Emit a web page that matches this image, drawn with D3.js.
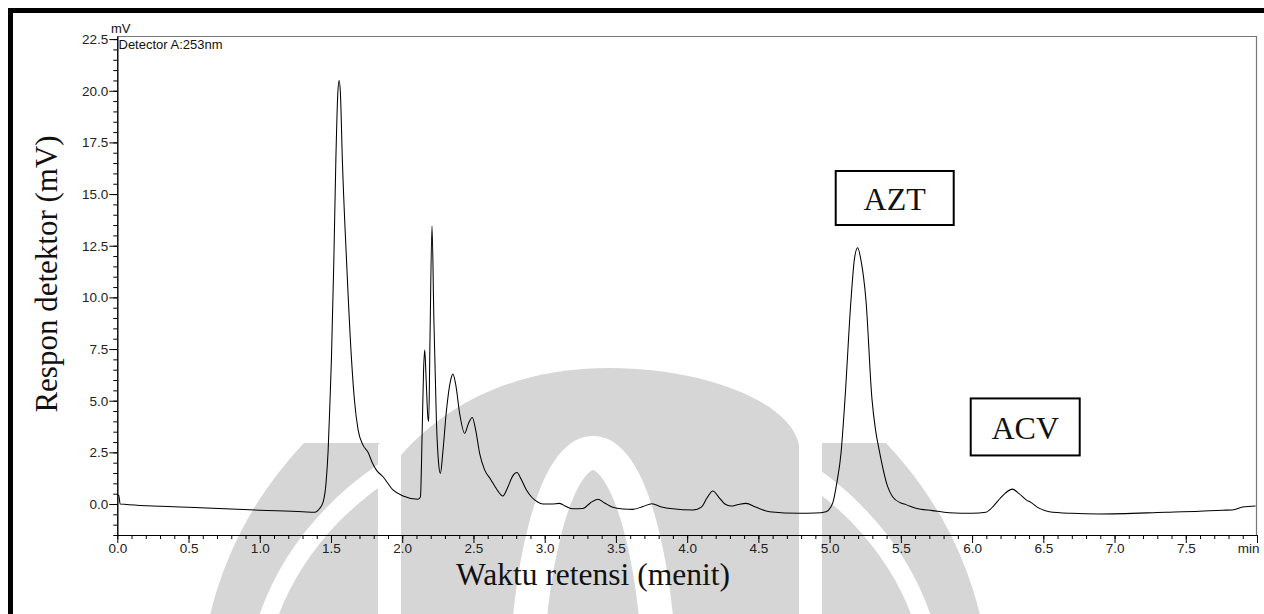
<!DOCTYPE html>
<html>
<head>
<meta charset="utf-8">
<script src="https://cdn.jsdelivr.net/npm/d3@7"></script>
<style>
  body { margin: 0; background: #fff; }
  svg { display: block; }
</style>
</head>
<body>
<svg id="chart" width="1264" height="614"></svg>
<script>
// chromatogram: time (min) and response (mV)
var times = [0.000, 0.010, 0.020, 0.50, 1.00, 1.30, 1.386, 1.42, 1.445, 1.465, 1.480, 1.493, 1.503, 1.520, 1.534, 1.548, 1.557, 1.566, 1.580, 1.609, 1.644, 1.665, 1.690, 1.725, 1.760, 1.790, 1.819, 1.865, 1.935, 2.006, 2.111, 2.128, 2.140, 2.150, 2.158, 2.168, 2.180, 2.186, 2.195, 2.209, 2.222, 2.240, 2.255, 2.268, 2.285, 2.310, 2.340, 2.356, 2.375, 2.405, 2.438, 2.465, 2.492, 2.515, 2.545, 2.579, 2.62, 2.66, 2.707, 2.740, 2.775, 2.805, 2.835, 2.87, 2.906, 2.95, 2.987, 3.05, 3.104, 3.15, 3.198, 3.268, 3.32, 3.373, 3.42, 3.478, 3.55, 3.619, 3.69, 3.752, 3.82, 3.899, 4.039, 4.10, 4.140, 4.180, 4.22, 4.265, 4.308, 4.36, 4.414, 4.48, 4.577, 4.788, 4.90, 4.975, 5.021, 5.05, 5.08, 5.108, 5.150, 5.175, 5.197, 5.220, 5.255, 5.297, 5.322, 5.348, 5.407, 5.442, 5.50, 5.536, 5.606, 5.722, 5.839, 6.003, 6.097, 6.15, 6.20, 6.283, 6.33, 6.38, 6.412, 6.47, 6.541, 6.70, 6.891, 7.359, 7.60, 7.756, 7.826, 7.90, 7.99];
var response = [0.43, 0.42, 0.00, -0.16, -0.30, -0.37, -0.40, -0.22, 0.10, 1.0, 2.6, 5.0, 7.0, 11.8, 16.6, 19.9, 20.5, 19.9, 16.6, 11.8, 7.0, 5.0, 3.6, 2.85, 2.5, 2.0, 1.64, 1.32, 0.68, 0.39, 0.23, 0.35, 3.5, 6.5, 7.45, 6.0, 4.2, 4.0, 8.0, 13.45, 9.0, 4.0, 2.0, 1.48, 2.5, 4.5, 6.0, 6.29, 5.8, 4.3, 3.42, 3.9, 4.19, 3.6, 2.4, 1.64, 1.2, 0.75, 0.39, 0.8, 1.35, 1.52, 1.2, 0.7, 0.35, 0.1, 0.0, 0.0, 0.03, -0.12, -0.23, -0.22, 0.05, 0.23, 0.05, -0.16, -0.24, -0.26, -0.12, 0.01, -0.14, -0.23, -0.29, -0.15, 0.3, 0.63, 0.35, 0.0, -0.1, -0.02, 0.03, -0.15, -0.37, -0.45, -0.44, -0.37, 0.03, 1.0, 2.46, 5.1, 9.87, 11.9, 12.4, 11.8, 9.87, 5.1, 3.6, 2.61, 0.85, 0.35, 0.05, -0.03, -0.21, -0.32, -0.42, -0.45, -0.40, -0.1, 0.3, 0.72, 0.5, 0.2, 0.08, -0.2, -0.37, -0.45, -0.48, -0.4, -0.35, -0.3, -0.29, -0.15, -0.1];

var xMajor = [0, 0.5, 1.0, 1.5, 2.0, 2.5, 3.0, 3.5, 4.0, 4.5, 5.0, 5.5, 6.0, 6.5, 7.0, 7.5, 8.0];
var xLabels = ["0.0", "0.5", "1.0", "1.5", "2.0", "2.5", "3.0", "3.5", "4.0", "4.5", "5.0", "5.5", "6.0", "6.5", "7.0", "7.5", "min"];
var yMajor = [0, 2.5, 5, 7.5, 10, 12.5, 15, 17.5, 20, 22.5];
var yLabels = ["0.0", "2.5", "5.0", "7.5", "10.0", "12.5", "15.0", "17.5", "20.0", "22.5"];

// peak annotations
var peakNames = ["AZT", "ACV"];
var peakBoxTime = [5.457, 6.373];  // box centre (min)
var peakBoxValue = [14.81, 3.73];  // box centre (mV)

var svg = d3.select("#chart");
var plotL = 117.3, plotR = 1257, plotT = 36, plotB = 535;

var x = d3.scaleLinear().domain([0, 8]).range([plotL, plotR]);
var y = d3.scaleLinear().domain([-1.5, 22.65]).range([plotB, plotT]);

var sans = "'Liberation Sans', Arial, sans-serif";
var serif = "'Liberation Serif', 'Times New Roman', serif";
var wm = "#d6d6d6";

//watermark (university logo, rough shapes)
var mark = svg.append("g").attr("class", "watermark");
svg.append("clipPath").attr("id", "ringclip")
    .append("rect").attr("x", 0).attr("y", 443).attr("width", 1264).attr("height", 200);
mark.append("ellipse")
    .attr("cx", 595).attr("cy", 700).attr("rx", 395).attr("ry", 380)
    .attr("clip-path", "url(#ringclip)")
    .attr("fill", wm);
mark.append("ellipse")
    .attr("cx", 595).attr("cy", 700).attr("rx", 350).attr("ry", 300)
    .attr("fill", "#fff");
mark.append("ellipse")
    .attr("cx", 595).attr("cy", 700).attr("rx", 332).attr("ry", 280)
    .attr("clip-path", "url(#ringclip)")
    .attr("fill", wm);
mark.append("path")
    .attr("d", "M378,614 L378,445 C430,385 510,348 610,348 C710,348 812,385 822,440 L822,614 Z")
    .attr("fill", "#fff");
mark.append("path")
    .attr("d", "M401,614 L401,455 C450,400 520,368 610,368 C700,368 790,400 799,445 L799,614 Z")
    .attr("fill", wm);
mark.append("ellipse")
    .attr("cx", 593).attr("cy", 705).attr("rx", 67).attr("ry", 252)
    .attr("fill", "none")
    .attr("stroke", "#fff")
    .attr("stroke-width", 34);

// outer thick frame
svg.append("rect")
    .attr("x", 10.5).attr("y", 10.5)
    .attr("width", 1300).attr("height", 700)
    .attr("fill", "none")
    .attr("stroke", "#000")
    .attr("stroke-width", 5);

// plot box, top and right in grey
svg.append("path")
    .attr("d", "M" + plotL + "," + (plotT + 0.5) + "H" + (plotR - 0.5) + "V" + plotB)
    .attr("fill", "none")
    .attr("stroke", "#777")
    .attr("stroke-width", 1.2);

// minor ticks
var xMinor = d3.range(0, 81).map(function(i){ return i / 10; });
var yMinor = d3.range(0, 49).map(function(i){ return -1.5 + i * 0.5; });

svg.append("g")
    .attr("transform", "translate(0," + plotB + ")")
    .call(d3.axisBottom(x).tickValues(xMinor).tickSize(4).tickSizeOuter(0).tickFormat(""));
svg.append("g")
    .attr("transform", "translate(" + plotL + ",0)")
    .call(d3.axisLeft(y).tickValues(yMinor).tickSize(4).tickSizeOuter(0).tickFormat(""));

var xAxis = svg.append("g")
    .attr("transform", "translate(0," + plotB + ")")
    .call(d3.axisBottom(x).tickValues(xMajor).tickSize(8).tickSizeOuter(0)
        .tickFormat(function(d, i){ return xLabels[i]; }));
xAxis.selectAll("text")
    .attr("font-family", sans)
    .attr("font-size", "13.5px")
    .attr("fill", "#222")
    .attr("dy", "0.6em")
    .attr("y", 10);
xAxis.selectAll(".tick:last-of-type text").attr("text-anchor", "end").attr("x", 2);

var yAxis = svg.append("g")
    .attr("transform", "translate(" + plotL + ",0)")
    .call(d3.axisLeft(y).tickValues(yMajor).tickSize(8).tickSizeOuter(0)
        .tickFormat(function(d, i){ return yLabels[i]; }));
yAxis.selectAll("text")
    .attr("font-family", sans)
    .attr("font-size", "13.5px")
    .attr("fill", "#222")
    .attr("x", -9);

svg.selectAll(".domain").attr("stroke", "#000");
svg.selectAll(".tick line").attr("stroke", "#000");

// unit and detector texts
svg.append("text")
    .attr("x", 111).attr("y", 33)
    .attr("font-family", sans).attr("font-size", "13px").attr("fill", "#111")
    .text("mV");
svg.append("text")
    .attr("x", 118.5).attr("y", 48.5)
    .attr("font-family", sans).attr("font-size", "13px").attr("fill", "#111")
    .text("Detector A:253nm");

// trace
var pts = times.map(function(t, i){ return [t, response[i]]; });
var line = d3.line()
    .x(function(d){ return x(d[0]); })
    .y(function(d){ return y(d[1]); })
    .curve(d3.curveMonotoneX);
svg.append("path")
    .datum(pts)
    .attr("d", line)
    .attr("fill", "none")
    .attr("stroke", "#000")
    .attr("stroke-width", 1.05);

// peak labels in boxes
var boxW = [118, 109], boxH = [54, 57];
peakNames.forEach(function(name, i){
    var cx = x(peakBoxTime[i]), cy = y(peakBoxValue[i]);
    svg.append("rect")
        .attr("x", cx - boxW[i] / 2).attr("y", cy - boxH[i] / 2)
        .attr("width", boxW[i]).attr("height", boxH[i])
        .attr("fill", "#fff")
        .attr("stroke", "#000")
        .attr("stroke-width", 2);
    svg.append("text")
        .attr("x", cx).attr("y", cy + 12)
        .attr("text-anchor", "middle")
        .attr("font-family", serif).attr("font-size", "32px").attr("fill", "#111")
        .text(name);
});

// axis titles
svg.append("text")
    .attr("transform", "translate(57,274) rotate(-90)")
    .attr("text-anchor", "middle")
    .attr("font-family", serif).attr("font-size", "31px").attr("fill", "#111")
    .text("Respon detektor (mV)");
svg.append("text")
    .attr("x", 593).attr("y", 585)
    .attr("text-anchor", "middle")
    .attr("font-family", serif).attr("font-size", "31.5px").attr("fill", "#111")
    .text("Waktu retensi (menit)");
</script>
</body>
</html>
